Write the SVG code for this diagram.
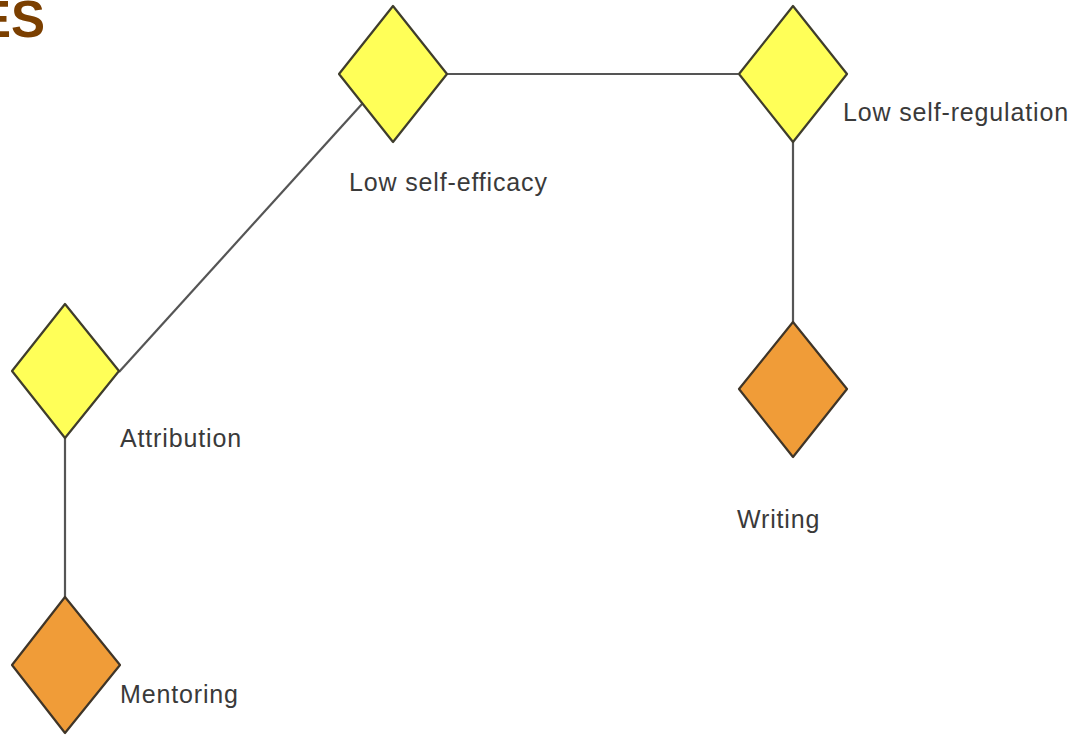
<svg xmlns="http://www.w3.org/2000/svg" width="1078" height="736" viewBox="0 0 1078 736">
<style>
.lbl{font-family:"Liberation Sans",Arial,sans-serif;font-size:25px;letter-spacing:0.85px;fill:#3a3a3a}
.y{fill:#ffff58;stroke:#3f3d2c;stroke-width:2.2;stroke-linejoin:round}
.o{fill:#f09c38;stroke:#3f3528;stroke-width:2.2;stroke-linejoin:round}
.c{stroke:#555;stroke-width:2.2;fill:none}
</style>
<rect width="1078" height="736" fill="#fff"/>
<text x="-23" y="37" font-family="Liberation Sans,Arial,sans-serif" font-weight="bold" font-size="51" fill="#7b3f00">ES</text>
<g id="connectors">
<line class="c" x1="447" y1="74" x2="738" y2="74"/>
<line class="c" x1="793" y1="142" x2="793" y2="322"/>
<line class="c" x1="119" y1="372" x2="362" y2="104"/>
<line class="c" x1="65" y1="438" x2="65" y2="597"/>
</g>
<g id="low-self-efficacy">
<polygon class="y" points="393,6 447,74 393,142 339,74"/>
<text class="lbl" x="349" y="191">Low self-efficacy</text>
</g>
<g id="low-self-regulation">
<polygon class="y" points="793,6 847,74 793,142 739,74"/>
<text class="lbl" x="843" y="121">Low self-regulation</text>
</g>
<g id="attribution">
<polygon class="y" points="65,304 119,371 65,438 12,371"/>
<text class="lbl" x="120" y="447">Attribution</text>
</g>
<g id="mentoring">
<polygon class="o" points="65,597 120,665 65,733 12,665"/>
<text class="lbl" x="120" y="703">Mentoring</text>
</g>
<g id="writing">
<polygon class="o" points="793,322 847,389 793,457 739,389"/>
<text class="lbl" x="737" y="528">Writing</text>
</g>
</svg>
